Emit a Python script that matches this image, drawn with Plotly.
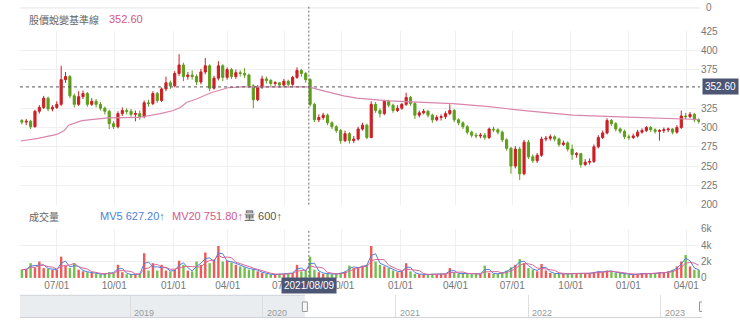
import pandas as pd
import plotly.graph_objects as go

# ---------------- data (weekly candles) ----------------
WEEK_START = "2020-05-06"
FIRST_OPEN = 309
CLOSE = [307, 308, 301, 321, 326, 338, 324, 326, 330, 362,
         366, 341, 330, 340, 344, 330, 334, 330, 325, 321,
         305, 301, 318, 322, 321, 317, 318, 314, 332, 331,
         344, 335, 350, 358, 354, 370, 381, 366, 368, 366,
         359, 372, 380, 351, 364, 380, 365, 375, 366, 371,
         370, 368, 354, 336, 352, 363, 361, 357, 358, 355,
         360, 356, 365, 374, 370, 362, 330, 310, 313, 316,
         306, 301, 296, 283, 292, 283, 285, 298, 303, 287,
         330, 322, 318, 334, 329, 322, 325, 330, 339, 331,
         316, 319, 321, 316, 310, 313, 314, 318, 322, 310,
         306, 301, 294, 290, 289, 290, 287, 298, 297, 294,
         284, 273, 250, 272, 240, 281, 262, 257, 264, 285,
         286, 288, 285, 278, 280, 272, 265, 266, 252, 255,
         256, 275, 287, 293, 309, 305, 298, 295, 288, 287,
         289, 294, 296, 300, 297, 295, 296, 297, 298, 294,
         300, 315, 314, 317, 310, 308]
HIGH = [311, 311, 310, 323, 329, 341, 340, 329, 334, 380,
        372, 368, 344, 347, 348, 346, 338, 337, 333, 327,
        323, 308, 321, 326, 325, 324, 322, 322, 335, 336,
        347, 346, 352, 366, 361, 373, 395, 384, 372, 374,
        369, 376, 390, 382, 367, 386, 382, 378, 377, 375,
        374, 377, 370, 356, 355, 367, 366, 363, 360, 359,
        363, 362, 367, 378, 376, 372, 364, 332, 317, 319,
        318, 308, 303, 298, 296, 294, 289, 301, 306, 305,
        334, 333, 325, 336, 336, 331, 329, 332, 345, 341,
        333, 322, 324, 323, 318, 316, 317, 321, 330, 324,
        312, 308, 303, 296, 293, 293, 293, 300, 301, 299,
        296, 286, 275, 276, 275, 284, 284, 265, 267, 288,
        289, 291, 290, 287, 283, 282, 278, 268, 267, 259,
        260, 278, 290, 296, 312, 311, 307, 300, 297, 291,
        292, 297, 299, 302, 302, 299, 298, 300, 300, 299,
        303, 322, 319, 320, 319, 312]
LOW = [304, 303, 298, 300, 318, 324, 321, 321, 324, 328,
       358, 338, 326, 328, 337, 327, 328, 326, 322, 317,
       298, 298, 299, 315, 317, 314, 308, 310, 312, 327,
       329, 332, 333, 347, 350, 352, 367, 360, 362, 362,
       355, 356, 369, 347, 349, 361, 360, 362, 363, 363,
       366, 364, 351, 325, 334, 350, 357, 354, 354, 352,
       353, 352, 354, 363, 366, 358, 327, 307, 307, 310,
       303, 298, 293, 279, 281, 279, 280, 283, 296, 285,
       286, 319, 313, 316, 326, 319, 320, 323, 328, 328,
       311, 313, 317, 313, 306, 308, 309, 311, 316, 307,
       303, 298, 291, 287, 286, 286, 284, 285, 294, 291,
       281, 270, 240, 247, 232, 238, 259, 254, 254, 262,
       282, 283, 282, 275, 276, 269, 258, 261, 248, 250,
       252, 254, 273, 285, 291, 302, 295, 292, 285, 284,
       285, 287, 292, 294, 294, 292, 283, 293, 294, 291,
       292, 298, 311, 312, 307, 305]
VOLUME = [1000, 1100, 1800, 1200, 2000, 1200, 1100, 1000, 1000, 2600,
          1500, 1200, 1800, 1000, 800, 700, 600, 500, 450, 500,
          700, 600, 1600, 700, 450, 400, 450, 500, 3000, 900,
          1800, 900, 1600, 900, 800, 1000, 2100, 1600, 900, 800,
          2000, 1600, 3100, 1800, 2200, 3900, 2000, 2100, 1900, 1600,
          1400, 1300, 1000, 1100, 800, 600, 500, 400, 400, 500,
          500, 600, 600, 1600, 800, 900, 2600, 1000, 700, 500,
          500, 450, 500, 600, 800, 1500, 1200, 1300, 1500, 1600,
          3900, 2000, 1600, 1400, 1200, 900, 700, 800, 1800, 800,
          500, 450, 400, 400, 500, 400, 500, 500, 1200, 600,
          500, 600, 500, 450, 500, 500, 1500, 600, 500, 500,
          700, 900, 1300, 1600, 2300, 1800, 1200, 1000, 800, 1700,
          900, 600, 500, 500, 500, 500, 600, 500, 600, 500,
          600, 700, 800, 700, 900, 800, 600, 600, 500, 400,
          400, 500, 600, 500, 500, 600, 700, 600, 800, 1000,
          1400, 2000, 2800, 1400, 1000, 1000]

MA_DATES = ["2020-05-04", "2020-06-01", "2020-07-01", "2020-07-13", "2020-07-20",
            "2020-08-10", "2020-09-21", "2020-11-09", "2020-12-14", "2021-01-04",
            "2021-01-15", "2021-01-25", "2021-02-10", "2021-03-05", "2021-03-22",
            "2021-04-01", "2021-04-23", "2021-08-09", "2021-08-23", "2021-09-13",
            "2021-10-04", "2021-10-25", "2021-12-15", "2022-03-28", "2022-05-25",
            "2022-07-25", "2022-10-06", "2022-12-21", "2023-03-15", "2023-04-26"]
MA_VALUES = [282.5, 286, 291, 296, 303,
             309, 312.5, 313, 318, 322,
             326, 332.5, 337, 345, 349,
             351.5, 352.6, 352.6, 349.5, 345,
             341, 338, 334.5, 331, 327,
             321.5, 316, 313.75, 311.7, 310.4]

PRICE_TICKS = [200, 225, 250, 275, 300, 325, 375, 400, 425]
VOL_TICKS = [0, 2000, 4000, 6000]
VOL_TICK_TEXT = ["0", "2k", "4k", "6k"]
QUARTER_DATES = ["2020-07-01", "2020-10-01", "2021-01-04", "2021-04-01",
                 "2021-07-01", "2021-10-01", "2022-01-03", "2022-04-01",
                 "2022-07-01", "2022-10-03", "2023-01-03", "2023-04-06"]
QUARTER_LABELS = ["07/01", "10/01", "01/01", "04/01", "07/01", "10/01",
                  "01/01", "04/01", "07/01", "10/01", "01/01", "04/01"]
NAV_YEARS = ["2019", "2020", "2021", "2022", "2023"]

LEGEND_NAME = "股價蛻變基準線"
LEGEND_VALUE = 352.60
VOL_TITLE = "成交量"
MV5_VALUE = 627.20
MV20_VALUE = 751.80
LAST_VOL = 600
CROSSHAIR_DATE = "2021-08-09"
CROSSHAIR_LABEL = "2021/08/09"

X_START, X_END = "2020-05-03", "2023-04-28"
NAV_START, NAV_END = "2018-03-04", "2023-04-24"
SELECT_START = "2020-04-26"

# ---------------- derived ----------------
dates = pd.date_range(WEEK_START, periods=len(CLOSE), freq="7D")
OPEN = [FIRST_OPEN] + CLOSE[:-1]
UP, DOWN = "#cc1f24", "#5f9e1c"
vol_colors = ["#ee5a55" if c >= o else "#74be4e" for o, c in zip(OPEN, CLOSE)]
vs = pd.Series(VOLUME, dtype=float)
mv5 = vs.rolling(2, min_periods=1).mean()
mv20 = vs.rolling(4, min_periods=1).mean()

W, H = 740, 336
def px(x):
    return x / W
def py(y):
    return 1 - y / H

FONT = "Liberation Sans, Noto Sans CJK TC, sans-serif"
CJK = "Noto Sans CJK TC, sans-serif"
GRID = "#f0f0f0"
TICKC = "#777"

fig = go.Figure()
fig.add_trace(go.Candlestick(
    x=dates, open=OPEN, high=HIGH, low=LOW, close=CLOSE,
    increasing=dict(line=dict(color=UP, width=1), fillcolor=UP),
    decreasing=dict(line=dict(color=DOWN, width=1), fillcolor=DOWN),
    whiskerwidth=0, xaxis="x", yaxis="y", hoverinfo="skip"))
fig.add_trace(go.Scatter(x=pd.to_datetime(MA_DATES), y=MA_VALUES, mode="lines",
                         line=dict(color="#d886ac", width=1.2),
                         xaxis="x", yaxis="y", hoverinfo="skip"))
fig.add_trace(go.Bar(x=dates, y=VOLUME, marker=dict(color=vol_colors, line=dict(width=0)),
                     xaxis="x2", yaxis="y2", hoverinfo="skip"))
fig.add_trace(go.Scatter(x=dates, y=mv5, mode="lines", line=dict(color="#4f7fd8", width=1),
                         xaxis="x2", yaxis="y2", hoverinfo="skip"))
fig.add_trace(go.Scatter(x=dates, y=mv20, mode="lines", line=dict(color="#d8679a", width=1),
                         xaxis="x2", yaxis="y2", hoverinfo="skip"))
fig.add_trace(go.Scatter(x=[NAV_START, NAV_END], y=[0, 0], mode="lines",
                         line=dict(width=0, color="rgba(0,0,0,0)"),
                         xaxis="x3", yaxis="y3", hoverinfo="skip"))

xdom = [px(20), px(700)]
fig.update_layout(
    width=W, height=H, margin=dict(l=0, r=0, t=0, b=0),
    paper_bgcolor="white", plot_bgcolor="white", showlegend=False,
    font=dict(family=FONT, size=10, color=TICKC),
    bargap=0.45,
    xaxis=dict(domain=xdom, anchor="y", type="date", range=[X_START, X_END],
               tickvals=QUARTER_DATES, showticklabels=False, showgrid=True,
               gridcolor=GRID, zeroline=False, rangeslider=dict(visible=False)),
    yaxis=dict(domain=[py(206), py(26)], anchor="x", side="right", range=[200, 425],
               tickvals=PRICE_TICKS, showgrid=True, gridcolor=GRID, zeroline=False,
               tickfont=dict(size=10, color=TICKC), ticks=""),
    xaxis2=dict(domain=xdom, anchor="y2", type="date", matches="x",
                tickvals=QUARTER_DATES, ticktext=QUARTER_LABELS, showgrid=True,
                gridcolor=GRID, zeroline=False, ticks="",
                tickfont=dict(size=10, color=TICKC)),
    yaxis2=dict(domain=[py(282), py(231)], anchor="x2", side="right", range=[0, 6000],
                tickvals=VOL_TICKS, ticktext=VOL_TICK_TEXT, showgrid=True, gridcolor=GRID,
                zeroline=False, ticks="", tickfont=dict(size=10, color=TICKC)),
    xaxis3=dict(domain=[px(20), px(702)], anchor="y3", type="date", range=[NAV_START, NAV_END],
                tickvals=[f"{y}-01-01" for y in NAV_YEARS], showticklabels=False,
                showgrid=True, gridcolor="#dedede", zeroline=False, ticks=""),
    yaxis3=dict(domain=[py(323), py(300)], anchor="x3", range=[0, 1], visible=False),
)

shapes = []
# remnant of an upper panel
shapes.append(dict(type="line", xref="paper", yref="paper", x0=px(20), x1=px(700),
                   y0=py(2), y1=py(2), line=dict(color="#e6e6e6", width=1)))
# horizontal dashed reference line
shapes.append(dict(type="line", xref="paper", yref="y", x0=px(20), x1=px(700),
                   y0=LEGEND_VALUE, y1=LEGEND_VALUE,
                   line=dict(color="#555", width=1, dash="3px,3px")))
# crosshair
shapes.append(dict(type="line", xref="x", yref="paper", x0=CROSSHAIR_DATE, x1=CROSSHAIR_DATE,
                   y0=py(206), y1=1, line=dict(color="#666", width=1, dash="2px,2px")))
shapes.append(dict(type="line", xref="x", yref="paper", x0=CROSSHAIR_DATE, x1=CROSSHAIR_DATE,
                   y0=py(285), y1=py(231), line=dict(color="#666", width=1, dash="2px,2px")))
# navigator shading and borders
shapes.append(dict(type="rect", xref="x3", yref="y3 domain", x0=NAV_START, x1=SELECT_START,
                   y0=0, y1=1, fillcolor="#e9edf0", line=dict(width=0), layer="below"))
shapes.append(dict(type="line", xref="x3", yref="y3 domain", x0=NAV_START, x1=SELECT_START,
                   y0=1, y1=1, line=dict(color="#cfd4d8", width=1)))
shapes.append(dict(type="line", xref="x3", yref="y3 domain", x0=NAV_START, x1=NAV_END,
                   y0=0, y1=0, line=dict(color="#cfd4d8", width=1)))
for anchor in (SELECT_START, NAV_END):
    shapes.append(dict(type="rect", xref="x3", yref="y3", xsizemode="pixel", xanchor=anchor,
                       x0=-2.5, x1=2.5, y0=0.27, y1=0.7, fillcolor="#f7f7f7",
                       line=dict(color="#999", width=1)))
fig.update_layout(shapes=shapes)

ann = []
def text(x, y, s, color, size=10, family=FONT, anchor="left"):
    ann.append(dict(xref="paper", yref="paper", x=px(x), y=py(y), text=s, showarrow=False,
                    xanchor=anchor, yanchor="middle", font=dict(size=size, color=color, family=family)))

text(27, 14, LEGEND_NAME, "#666", size=10, family=CJK)
text(107, 14, f"{LEGEND_VALUE:.2f}", "#d0588c", size=11)
text(27, 218, VOL_TITLE, "#666", size=10, family=CJK)
text(98, 218, f"MV5 {MV5_VALUE:.2f}↑", "#4f7fd8", size=11)
text(170, 218, f"MV20 {MV20_VALUE:.2f}↑", "#d0588c", size=11)
text(242, 218, f"量 {LAST_VOL}↑", "#555", size=11)
text(704, 2, "0", TICKC, size=10)
# price label box on right
ann.append(dict(xref="paper", yref="y", x=px(702), y=LEGEND_VALUE, text=f"{LEGEND_VALUE:.2f}",
                showarrow=False, xanchor="left", yanchor="middle", bgcolor="#4d5575",
                borderpad=2, font=dict(size=10, color="white")))
# crosshair date label
ann.append(dict(xref="x", yref="paper", x=CROSSHAIR_DATE, y=py(290), text=CROSSHAIR_LABEL,
                showarrow=False, xanchor="center", yanchor="middle", bgcolor="#4d5575",
                borderpad=2, font=dict(size=10, color="white")))
# navigator year labels
for y in NAV_YEARS:
    ann.append(dict(xref="x3", yref="paper", x=f"{y}-01-01", y=py(318), text=y, showarrow=False,
                    xanchor="left", yanchor="middle", xshift=2,
                    font=dict(size=9, color="#999")))
fig.update_layout(annotations=ann)

fig.write_html("out.html")
